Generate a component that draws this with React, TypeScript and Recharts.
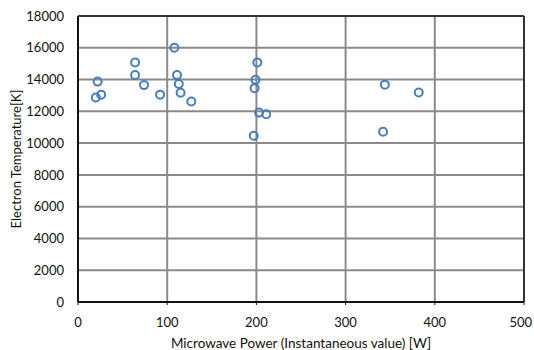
import React from 'react';
import { ScatterChart, Scatter, XAxis, YAxis, CartesianGrid, ReferenceLine, Label } from 'recharts';

// microwave power [W] and electron temperature [K]
const powerW = [20, 22, 26, 64, 64, 74, 92, 108, 111, 113, 115, 127, 201, 199, 198, 203, 211, 197, 344, 382, 342];
const tempK = [12870, 13870, 13050, 15070, 14280, 13650, 13050, 16000, 14280, 13720, 13170, 12620, 15070, 13980, 13460, 11920, 11820, 10460, 13680, 13180, 10710];

const xTicks = [0, 100, 200, 300, 400, 500];
const yTicks = [0, 2000, 4000, 6000, 8000, 10000, 12000, 14000, 16000, 18000];

const points = powerW.map((p, i) => ({ power: p, temp: tempK[i] }));

const FONT = 'Lato, "Open Sans", sans-serif';

const Ring = (props: any) => {
  const { cx, cy } = props;
  if (cx == null || cy == null) return null;
  return <circle cx={cx} cy={cy} r={4} fill="none" stroke="#4a7ebb" strokeWidth={2} />;
};

// last x tick sits at the page edge, so right-align it to keep it visible
const XTick = (props: any) => {
  const { x, y, payload } = props;
  const last = payload.value === xTicks[xTicks.length - 1];
  return (
    <text
      x={last ? x + 10 : x}
      y={y}
      dy="0.71em"
      textAnchor={last ? 'end' : 'middle'}
      fill="#111"
      fontSize={13}
      fontFamily={FONT}
    >
      {payload.value}
    </text>
  );
};

export default function App() {
  return (
    <div style={{ position: 'fixed', left: 0, top: 0, width: 534, height: 350, background: '#fff' }}>
      <ScatterChart width={534} height={350} margin={{ top: 16, right: 10, left: 0, bottom: 0 }}>
        <CartesianGrid stroke="#8a8a8a" strokeWidth={2} />
        <XAxis
          type="number"
          dataKey="power"
          domain={[0, 500]}
          ticks={xTicks}
          height={48}
          tickSize={3}
          tickMargin={13}
          axisLine={{ stroke: '#111', strokeWidth: 2 }}
          tickLine={{ stroke: '#111' }}
          tick={<XTick />}
        >
          <Label
            value="Microwave Power (Instantaneous value) [W]"
            position="insideBottom"
            offset={2}
            style={{ fill: '#111', fontSize: 13.5, fontFamily: FONT }}
          />
        </XAxis>
        <YAxis
          type="number"
          dataKey="temp"
          domain={[0, 18000]}
          ticks={yTicks}
          width={78}
          tickSize={0}
          tickMargin={14}
          axisLine={{ stroke: '#111', strokeWidth: 2 }}
          tick={{ fill: '#111', fontSize: 13, fontFamily: FONT }}
        >
          <Label
            value="Electron Temperature[K]"
            angle={-90}
            position="insideLeft"
            offset={16}
            style={{ fill: '#111', fontSize: 13, fontFamily: FONT, textAnchor: 'middle' }}
          />
        </YAxis>
        <ReferenceLine y={18000} stroke="#333" strokeWidth={2} />
        <ReferenceLine x={500} stroke="#333" strokeWidth={2} />
        <Scatter data={points} shape={Ring} isAnimationActive={false} />
      </ScatterChart>
    </div>
  );
}
